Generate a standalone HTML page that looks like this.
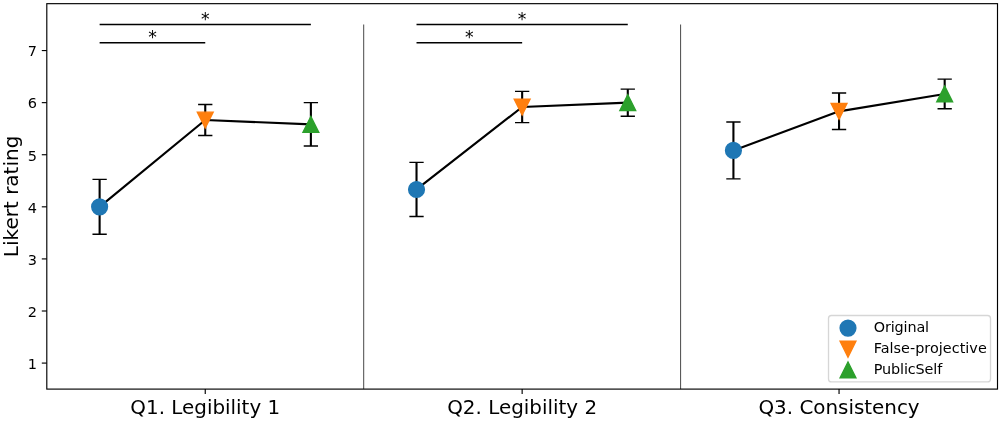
<!DOCTYPE html>
<html lang="en">
<head>
<meta charset="utf-8">
<title>Likert rating chart</title>
<style>
html,body{margin:0;padding:0;background:#fff;}
body{width:1001px;height:421px;overflow:hidden;}
svg{display:block;}
text{font-family:"DejaVu Sans", "Liberation Sans", sans-serif;fill:#000;}
</style>
</head>
<body>
<svg width="1001" height="421" viewBox="0 0 1001 421">
<rect x="0" y="0" width="1001" height="421" fill="#ffffff"/>
<line x1="363.70" y1="24.50" x2="363.70" y2="389.10" stroke="#000" stroke-width="0.72"/>
<line x1="680.60" y1="24.50" x2="680.60" y2="389.10" stroke="#000" stroke-width="0.72"/>
<line x1="99.62" y1="24.50" x2="310.88" y2="24.50" stroke="#000" stroke-width="1.5"/>
<line x1="99.62" y1="42.74" x2="205.25" y2="42.74" stroke="#000" stroke-width="1.5"/>
<text x="205.25" y="24.9" font-size="17.2" text-anchor="middle">*</text>
<text x="152.43" y="43.1" font-size="17.2" text-anchor="middle">*</text>
<line x1="416.52" y1="24.50" x2="627.78" y2="24.50" stroke="#000" stroke-width="1.5"/>
<line x1="416.52" y1="42.74" x2="522.15" y2="42.74" stroke="#000" stroke-width="1.5"/>
<text x="522.15" y="24.9" font-size="17.2" text-anchor="middle">*</text>
<text x="469.33" y="43.1" font-size="17.2" text-anchor="middle">*</text>
<polyline points="99.62,206.82 205.25,120.00 310.88,124.35" fill="none" stroke="#000" stroke-width="2.15" stroke-linejoin="round"/>
<polyline points="416.52,189.46 522.15,106.98 627.78,102.64" fill="none" stroke="#000" stroke-width="2.15" stroke-linejoin="round"/>
<polyline points="733.42,150.39 839.05,111.32 944.68,93.96" fill="none" stroke="#000" stroke-width="2.15" stroke-linejoin="round"/>
<path d="M99.62 234.27V179.37" fill="none" stroke="#000" stroke-width="2.1"/>
<path d="M92.47 234.27H106.77M92.47 179.37H106.77" fill="none" stroke="#000" stroke-width="1.45"/>
<path d="M205.25 135.52V104.48" fill="none" stroke="#000" stroke-width="2.1"/>
<path d="M198.10 135.52H212.40M198.10 104.48H212.40" fill="none" stroke="#000" stroke-width="1.45"/>
<path d="M310.88 146.07V102.62" fill="none" stroke="#000" stroke-width="2.1"/>
<path d="M303.73 146.07H318.03M303.73 102.62H318.03" fill="none" stroke="#000" stroke-width="1.45"/>
<path d="M416.52 216.55V162.37" fill="none" stroke="#000" stroke-width="2.1"/>
<path d="M409.37 216.55H423.67M409.37 162.37H423.67" fill="none" stroke="#000" stroke-width="1.45"/>
<path d="M522.15 122.61V91.35" fill="none" stroke="#000" stroke-width="2.1"/>
<path d="M515.00 122.61H529.30M515.00 91.35H529.30" fill="none" stroke="#000" stroke-width="1.45"/>
<path d="M627.78 116.18V89.10" fill="none" stroke="#000" stroke-width="2.1"/>
<path d="M620.63 116.18H634.93M620.63 89.10H634.93" fill="none" stroke="#000" stroke-width="1.45"/>
<path d="M733.42 178.88V121.90" fill="none" stroke="#000" stroke-width="2.1"/>
<path d="M726.27 178.88H740.57M726.27 121.90H740.57" fill="none" stroke="#000" stroke-width="1.45"/>
<path d="M839.05 129.55V93.09" fill="none" stroke="#000" stroke-width="2.1"/>
<path d="M831.90 129.55H846.20M831.90 93.09H846.20" fill="none" stroke="#000" stroke-width="1.45"/>
<path d="M944.68 108.80V79.11" fill="none" stroke="#000" stroke-width="2.1"/>
<path d="M937.53 108.80H951.83M937.53 79.11H951.83" fill="none" stroke="#000" stroke-width="1.45"/>
<circle cx="99.62" cy="206.82" r="7.87" fill="#1f77b4" stroke="#1f77b4" stroke-width="1.43" stroke-linejoin="miter"/>
<polygon points="197.38,112.13 213.12,112.13 205.25,127.87" fill="#ff7f0e" stroke="#ff7f0e" stroke-width="1.43" stroke-linejoin="miter"/>
<polygon points="303.01,132.22 318.75,132.22 310.88,116.48" fill="#2ca02c" stroke="#2ca02c" stroke-width="1.43" stroke-linejoin="miter"/>
<circle cx="416.52" cy="189.46" r="7.87" fill="#1f77b4" stroke="#1f77b4" stroke-width="1.43" stroke-linejoin="miter"/>
<polygon points="514.28,99.11 530.02,99.11 522.15,114.85" fill="#ff7f0e" stroke="#ff7f0e" stroke-width="1.43" stroke-linejoin="miter"/>
<polygon points="619.91,110.51 635.65,110.51 627.78,94.77" fill="#2ca02c" stroke="#2ca02c" stroke-width="1.43" stroke-linejoin="miter"/>
<circle cx="733.42" cy="150.39" r="7.87" fill="#1f77b4" stroke="#1f77b4" stroke-width="1.43" stroke-linejoin="miter"/>
<polygon points="831.18,103.45 846.92,103.45 839.05,119.19" fill="#ff7f0e" stroke="#ff7f0e" stroke-width="1.43" stroke-linejoin="miter"/>
<polygon points="936.81,101.83 952.55,101.83 944.68,86.09" fill="#2ca02c" stroke="#2ca02c" stroke-width="1.43" stroke-linejoin="miter"/>
<rect x="46.80" y="3.67" width="950.70" height="385.43" fill="none" stroke="#000" stroke-width="1.15"/>
<line x1="41.80" y1="363.09" x2="46.80" y2="363.09" stroke="#000" stroke-width="1.15"/>
<text x="37.1" y="368.89" font-size="14.5" text-anchor="end">1</text>
<line x1="41.80" y1="311.00" x2="46.80" y2="311.00" stroke="#000" stroke-width="1.15"/>
<text x="37.1" y="316.80" font-size="14.5" text-anchor="end">2</text>
<line x1="41.80" y1="258.91" x2="46.80" y2="258.91" stroke="#000" stroke-width="1.15"/>
<text x="37.1" y="264.71" font-size="14.5" text-anchor="end">3</text>
<line x1="41.80" y1="206.82" x2="46.80" y2="206.82" stroke="#000" stroke-width="1.15"/>
<text x="37.1" y="212.62" font-size="14.5" text-anchor="end">4</text>
<line x1="41.80" y1="154.73" x2="46.80" y2="154.73" stroke="#000" stroke-width="1.15"/>
<text x="37.1" y="160.53" font-size="14.5" text-anchor="end">5</text>
<line x1="41.80" y1="102.64" x2="46.80" y2="102.64" stroke="#000" stroke-width="1.15"/>
<text x="37.1" y="108.44" font-size="14.5" text-anchor="end">6</text>
<line x1="41.80" y1="50.55" x2="46.80" y2="50.55" stroke="#000" stroke-width="1.15"/>
<text x="37.1" y="56.35" font-size="14.5" text-anchor="end">7</text>
<line x1="205.25" y1="389.10" x2="205.25" y2="394.10" stroke="#000" stroke-width="1.15"/>
<text x="205.25" y="414.4" font-size="19.9" text-anchor="middle">Q1. Legibility 1</text>
<line x1="522.15" y1="389.10" x2="522.15" y2="394.10" stroke="#000" stroke-width="1.15"/>
<text x="522.15" y="414.4" font-size="19.9" text-anchor="middle">Q2. Legibility 2</text>
<line x1="839.05" y1="389.10" x2="839.05" y2="394.10" stroke="#000" stroke-width="1.15"/>
<text x="839.05" y="414.4" font-size="19.9" text-anchor="middle">Q3. Consistency</text>
<text transform="translate(17.8 196.4) rotate(-90)" font-size="20" text-anchor="middle">Likert rating</text>
<rect x="828.5" y="315.5" width="162" height="66.4" rx="3" ry="3" fill="#ffffff" fill-opacity="0.8" stroke="#cccccc" stroke-opacity="0.8" stroke-width="1.3"/>
<circle cx="848.00" cy="328.10" r="7.87" fill="#1f77b4" stroke="#1f77b4" stroke-width="1.43" stroke-linejoin="miter"/>
<text x="873.7" y="331.6" font-size="14.4" letter-spacing="-0.13">Original</text>
<polygon points="840.13,341.33 855.87,341.33 848.00,357.07" fill="#ff7f0e" stroke="#ff7f0e" stroke-width="1.43" stroke-linejoin="miter"/>
<text x="873.7" y="352.8" font-size="14.4" letter-spacing="0.03">False-projective</text>
<polygon points="840.13,377.77 855.87,377.77 848.00,362.03" fill="#2ca02c" stroke="#2ca02c" stroke-width="1.43" stroke-linejoin="miter"/>
<text x="873.7" y="373.5" font-size="14.4" letter-spacing="-0.12">PublicSelf</text>
</svg>
</body>
</html>
